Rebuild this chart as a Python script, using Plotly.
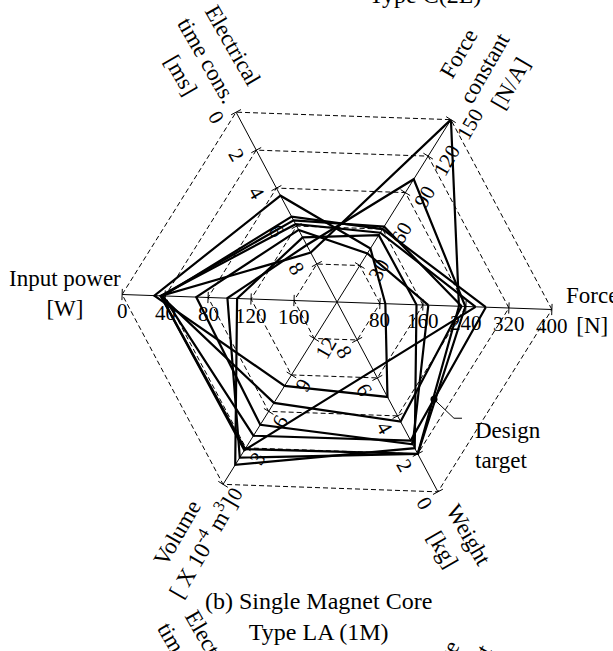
import math
import plotly.graph_objects as go

# ---------------- data ----------------
axis_names = ["Force", "Force constant", "Electrical time cons.", "Input power", "Volume", "Weight"]
axis_theta = [0, 60, 120, 180, 240, 300]
axis_value_at_center = [0, 0, 10, 200, 15, 10]
axis_value_at_outer = [400, 150, 0, 0, 0, 0]

ticks_force = [80, 160, 240, 320, 400]
ticks_force_constant = [30, 60, 90, 120, 150]
ticks_elec_time = [8, 6, 4, 2, 0]
ticks_input_power = [160, 120, 80, 40, 0]
ticks_volume = [12, 9, 6, 3, 0]
ticks_weight = [8, 6, 4, 2, 0]

# columns: Force, Force constant, Electrical time cons., Input power, Volume, Weight
series_1 = [227, 150, 7.4, 36, 2.9, 2.0]
series_2 = [239, 101, 7.0, 98, 2.2, 2.0]
series_3 = [277, 60, 5.5, 38, 4.0, 2.7]
series_4 = [258, 57, 5.9, 36, 2.8, None]
series_5 = [90, 44, 4.4, 30, 8.1, 5.0]
series_6 = [148, 55, 6.6, 107, 1.6, 2.3]
series_7 = [232, 62, 5.7, 36, 6.7, 3.7]
series_8 = [170, 40, 6.2, 69, 4.9, 2.5]
all_series = [series_1, series_2, series_3, series_4, series_5, series_6, series_7, series_8]

design_target_series = series_3
design_target_edge = (0, 5)        # between Force and Weight axes
design_target_fraction = 0.69

grid_levels = [1, 2, 3, 4, 5]

# ---------------- geometry / style ----------------
W_PX, H_PX = 613, 651
CX, CY, RAD = 337, 302, 215
ROT = -2
NLEV = 5
FONT = "Liberation Serif"


def level(i, v):
    c, o = axis_value_at_center[i], axis_value_at_outer[i]
    return (v - c) / (o - c) * NLEV


def to_px(L, theta):
    a = math.radians(theta + ROT)
    return CX + L * RAD / NLEV * math.cos(a), CY - L * RAD / NLEV * math.sin(a)


def px(x, y):
    return x / W_PX, 1 - y / H_PX


fig = go.Figure()

# dashed hexagon grid
for g in grid_levels:
    fig.add_trace(go.Scatterpolar(
        r=[g] * 7, theta=axis_theta + [axis_theta[0]], mode="lines",
        line=dict(color="black", width=1, dash="5px,3px"), hoverinfo="skip", showlegend=False))

# tick marks on spokes
for i, th in enumerate(axis_theta):
    fig.add_trace(go.Scatterpolar(
        r=grid_levels, theta=[th] * len(grid_levels), mode="markers",
        marker=dict(symbol="line-ns", size=8, angle=-(th + ROT),
                    line=dict(color="black", width=1)),
        hoverinfo="skip", showlegend=False))

# data polygons
for s in all_series:
    rr, tt = [], []
    for i, v in enumerate(s):
        if v is None:
            continue
        rr.append(level(i, v))
        tt.append(axis_theta[i])
    rr.append(rr[0]); tt.append(tt[0])
    fig.add_trace(go.Scatterpolar(r=rr, theta=tt, mode="lines",
                                  line=dict(color="black", width=2.2),
                                  hoverinfo="skip", showlegend=False))

# design target point on an edge of its polygon
ia, ib = design_target_edge
La = level(ia, design_target_series[ia]); Lb = level(ib, design_target_series[ib])
xa, ya = La * math.cos(math.radians(axis_theta[ia])), La * math.sin(math.radians(axis_theta[ia]))
xb, yb = Lb * math.cos(math.radians(axis_theta[ib])), Lb * math.sin(math.radians(axis_theta[ib]))
xd = xa + design_target_fraction * (xb - xa)
yd = ya + design_target_fraction * (yb - ya)
rd = math.hypot(xd, yd)
td = math.degrees(math.atan2(yd, xd)) % 360
fig.add_trace(go.Scatterpolar(r=[rd], theta=[td], mode="markers",
                              marker=dict(color="black", size=7),
                              hoverinfo="skip", showlegend=False))

annotations = []


def ann(x, y, text, size=23, angle=0, xanchor="center", yanchor="middle", align="center"):
    px_, py_ = px(x, y)
    annotations.append(dict(x=px_, y=py_, xref="paper", yref="paper", text=text,
                            showarrow=False, textangle=angle, xanchor=xanchor,
                            yanchor=yanchor, align=align,
                            font=dict(family=FONT, size=size, color="black")))


# tick labels
tick_lists = [ticks_force, ticks_force_constant, ticks_elec_time,
              ticks_input_power, ticks_volume, ticks_weight]
label_offset = [(0, 16), (19, 4), (-20, 5), (0, 17), (12, 10), (-13, 12)]
label_angle = [0, -60, 60, 0, -60, 60]
for i, ticks in enumerate(tick_lists):
    for t in ticks:
        x, y = to_px(level(i, t), axis_theta[i])
        ann(x + label_offset[i][0], y + label_offset[i][1], str(t), size=21, angle=label_angle[i])

# axis titles
ann(207, 60, "Electrical<br>time cons.<br>[ms]", angle=60)
ann(485, 69, "Force<br>constant<br>[N/A]", angle=-60)
ann(65, 293, "Input power<br>[W]")
ann(592, 310, "Force<br>[N]")
ann(190, 540, "Volume<br>[ X 10<sup>-4</sup> m<sup>3</sup>]", angle=-60)
ann(456, 542, "Weight<br>[kg]", angle=60)

# caption and neighbouring (clipped) sub-figure text
ann(318, 616, "(b) Single Magnet Core<br>Type LA (1M)", size=24)
ann(483, -5, "Type C(2L)", size=24, xanchor="right")
ann(187, 665, "Electrical<br>time cons.<br>[ms]", angle=60)
ann(466, 680, "Force<br>constant<br>[N/A]", angle=-60)

# design target label and leader
dx, dy = to_px(rd, td)
ann(473, 445, "Design<br>target", xanchor="left", align="left")
p0 = px(dx, dy); p1 = px(dx + 20, dy + 19); p2 = px(dx + 28, dy + 19)
shapes = [dict(type="path", xref="paper", yref="paper",
               path=f"M {p0[0]},{p0[1]} L {p1[0]},{p1[1]} L {p2[0]},{p2[1]}",
               line=dict(color="black", width=1))]

fig.update_layout(
    width=W_PX, height=H_PX, margin=dict(l=0, r=0, t=0, b=0),
    paper_bgcolor="white", plot_bgcolor="white",
    showlegend=False,
    polar=dict(
        domain=dict(x=[(CX - RAD) / W_PX, (CX + RAD) / W_PX],
                    y=[1 - (CY + RAD) / H_PX, 1 - (CY - RAD) / H_PX]),
        bgcolor="white",
        radialaxis=dict(range=[0, NLEV], showgrid=False, showline=False,
                        showticklabels=False, ticks=""),
        angularaxis=dict(rotation=ROT, direction="counterclockwise",
                         tickmode="array", tickvals=axis_theta,
                         showline=False, showticklabels=False, ticks="",
                         showgrid=True, gridcolor="black", gridwidth=1),
    ),
    annotations=annotations,
    shapes=shapes,
)

fig.write_html("out.html",
               config={"displayModeBar": False},
               post_script="document.body.style.margin='0';document.body.style.overflow='hidden';")
